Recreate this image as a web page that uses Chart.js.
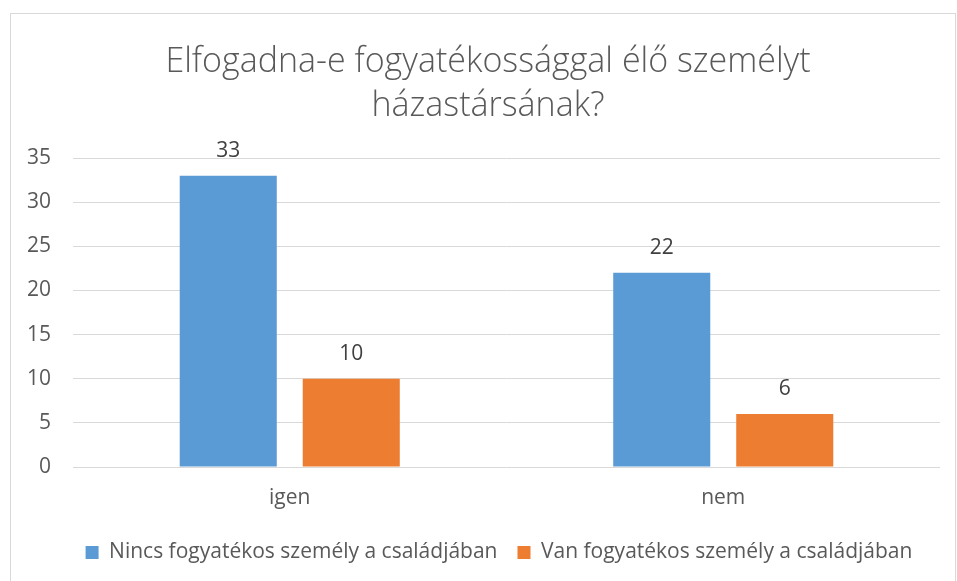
<!DOCTYPE html>
<html>
<head>
<meta charset="utf-8">
<script src="https://cdn.jsdelivr.net/npm/chart.js@4"></script>
<style>
html,body{margin:0;padding:0;background:#fff;}
canvas{display:block;}
</style>
</head>
<body>
<canvas id="c" width="957" height="581"></canvas>
<script>
const chartTitle = ["Elfogadna-e fogyatékossággal élő személyt", "házastársának?"];
const categories = ["igen", "nem"];
const seriesNames = ["Nincs fogyatékos személy a családjában", "Van fogyatékos személy a családjában"];
const seriesNincs = [33, 22];
const seriesVan = [10, 6];
const yTicksMax = 35;
const yTicksStep = 5;

const FONT = "'Open Sans', 'Noto Sans', sans-serif";
const TEXT = "#595959";

const frame = {
  id: 'frame',
  beforeDraw(chart) {
    const ctx = chart.ctx;
    ctx.save();
    ctx.fillStyle = '#fff';
    ctx.fillRect(0, 0, chart.width, chart.height);
    ctx.strokeStyle = '#d9d9d9';
    ctx.lineWidth = 1;
    ctx.strokeRect(10.5, 13.5, 945, 600);
    ctx.restore();
  }
};

const boxShift = {
  id: 'boxShift',
  afterLayout(chart) {
    if (chart.legend) {
      chart.legend.left += 24;
      chart.legend.right += 24;
    }
    if (chart.titleBlock) {
      chart.titleBlock.left += 13;
      chart.titleBlock.right += 13;
    }
  }
};

const valueLabels = {
  id: 'valueLabels',
  afterDatasetsDraw(chart) {
    const ctx = chart.ctx;
    ctx.save();
    ctx.font = "21px " + FONT;
    ctx.fillStyle = '#404040';
    ctx.textAlign = 'center';
    ctx.textBaseline = 'alphabetic';
    chart.data.datasets.forEach((ds, i) => {
      chart.getDatasetMeta(i).data.forEach((bar, j) => {
        ctx.fillText(String(ds.data[j]), bar.x, bar.y - 19);
      });
    });
    ctx.restore();
  }
};

new Chart(document.getElementById('c'), {
  type: 'bar',
  data: {
    labels: categories,
    datasets: [
      { label: seriesNames[0], data: seriesNincs, backgroundColor: '#5b9bd5', borderWidth: 0 },
      { label: seriesNames[1], data: seriesVan, backgroundColor: '#ed7d31', borderWidth: 0 }
    ]
  },
  options: {
    responsive: false,
    animation: false,
    devicePixelRatio: 1,
    categoryPercentage: 0.5675,
    barPercentage: 0.789,
    layout: { padding: { left: 10, right: 17, top: 0, bottom: 8 } },
    plugins: {
      title: {
        display: true,
        text: chartTitle,
        color: TEXT,
        font: { family: FONT, size: 34, weight: '300', lineHeight: 1.31 },
        padding: { top: 40, bottom: 29 }
      },
      legend: {
        position: 'bottom',
        labels: {
          color: TEXT,
          font: { family: FONT, size: 21 },
          boxWidth: 13,
          boxHeight: 13,
          padding: 20
        }
      },
      tooltip: { enabled: false }
    },
    scales: {
      x: {
        grid: { display: false, drawTicks: false },
        border: { display: false },
        ticks: { color: TEXT, font: { family: FONT, size: 21 }, padding: 18 },
        afterFit(scale) { scale.height = 55; }
      },
      y: {
        min: 0,
        max: yTicksMax,
        grid: { color: '#d9d9d9', drawTicks: false },
        border: { display: false },
        ticks: { stepSize: yTicksStep, color: TEXT, font: { family: FONT, size: 21 }, padding: 22 },
        afterFit(scale) { scale.width = 63; }
      }
    }
  },
  plugins: [frame, boxShift, valueLabels]
});
</script>
</body>
</html>
